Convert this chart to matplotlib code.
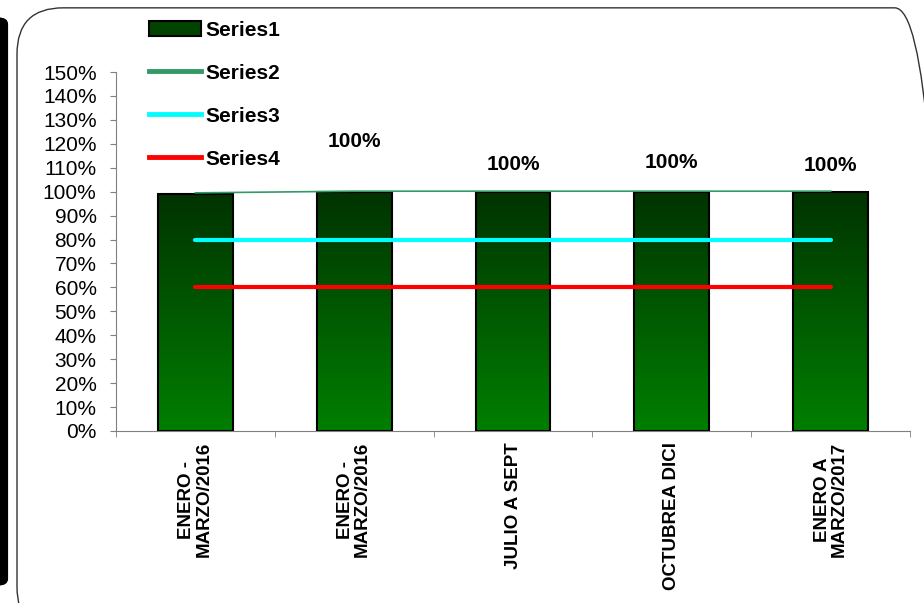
import numpy as np
import matplotlib
matplotlib.use("Agg")
import matplotlib.pyplot as plt
from matplotlib.patches import FancyBboxPatch
from matplotlib.lines import Line2D
from matplotlib.patches import Patch
from matplotlib.colors import LinearSegmentedColormap

plt.rcParams['font.family'] = ['Liberation Sans', 'DejaVu Sans']

categories = ['ENERO -\nMARZO/2016', 'ENERO -\nMARZO/2016', 'JULIO A SEPT',
              'OCTUBREA DICI', 'ENERO A\nMARZO/2017']
series1 = [0.99, 1.0, 1.0, 1.0, 1.0]
series2 = [0.995, 1.002, 1.002, 1.002, 1.002]
series3 = [0.80, 0.80, 0.80, 0.80, 0.80]
series4 = [0.60, 0.60, 0.60, 0.60, 0.60]
bar_labels = ['', '100%', '100%', '100%', '100%']
label_y = [0, 1.21, 1.115, 1.12, 1.11]

fig = plt.figure(figsize=(9.24, 6.03), dpi=100)
ax = fig.add_axes([116 / 924, 1 - 431 / 603, 794 / 924, 359 / 603])

x = np.arange(len(categories))
width = 0.47
bars = ax.bar(x, series1, width=width, color='none', edgecolor='black', linewidth=1.5, zorder=3)

# vertical gradient fill, dark at top
cmap = LinearSegmentedColormap.from_list('g', ['#003300', '#007f00'])
grad = np.linspace(0, 1, 256).reshape(-1, 1)
for b in bars:
    x0, y0 = b.get_x(), b.get_y()
    im = ax.imshow(grad, cmap=cmap, aspect='auto', origin='upper',
                   extent=[x0, x0 + b.get_width(), y0, y0 + b.get_height()], zorder=2)
    im.set_clip_path(b)

ax.plot(x, series2, color='#339966', linewidth=1.2, zorder=4)
ax.plot(x, series3, color='#00ffff', linewidth=3, solid_capstyle='round', zorder=4)
ax.plot(x, series4, color='#ff0000', linewidth=3, solid_capstyle='round', zorder=4)

for xi, lab, ly in zip(x, bar_labels, label_y):
    if lab:
        ax.text(xi, ly, lab, ha='center', va='center', fontsize=15, fontweight='bold')

ax.set_xlim(-0.5, len(categories) - 0.5)
ax.set_ylim(0, 1.5)
ax.set_yticks(np.arange(0, 1.51, 0.1))
ax.set_yticklabels([f'{int(round(v * 100))}%' for v in np.arange(0, 1.51, 0.1)], fontsize=15)
ax.set_xticks(x)
ax.set_xticklabels(categories, rotation=90, fontsize=13.5, fontweight='bold', va='top', linespacing=1.0)
ax.set_xticks(np.arange(-0.5, len(categories)), minor=True)
ax.tick_params(axis='x', which='major', length=0, pad=8)
ax.tick_params(axis='x', which='minor', length=4, color='#808080')
ax.tick_params(axis='y', length=4, color='#808080', pad=10)
for s in ['top', 'right']:
    ax.spines[s].set_visible(False)
ax.spines['left'].set_color('#808080')
ax.spines['bottom'].set_color('#808080')

handles = [Patch(facecolor='#004400', edgecolor='black', linewidth=1.5),
           Line2D([0], [0], color='#339966', linewidth=3.5),
           Line2D([0], [0], color='#00ffff', linewidth=3.5),
           Line2D([0], [0], color='#ff0000', linewidth=3.5)]
fig.legend(handles, ['Series1', 'Series2', 'Series3', 'Series4'],
           loc='upper left', bbox_to_anchor=(130 / 924, 1 - 2 / 603),
           frameon=False, prop={'weight': 'bold', 'size': 15},
           handlelength=2.5, handleheight=0.7, labelspacing=1.15, handletextpad=0.2)

# outer rounded frame
frame = FancyBboxPatch((17 / 924, -0.05), 1.0, 1.037, boxstyle='round,pad=0,rounding_size=0.05',
                       transform=fig.transFigure, facecolor='none', edgecolor='#333333',
                       linewidth=1.0, zorder=0, mutation_aspect=924 / 603)
fig.patches.append(frame)
left_bar = FancyBboxPatch((-0.02, 0.03), 0.028, 0.94, boxstyle='round,pad=0,rounding_size=0.01',
                          transform=fig.transFigure, facecolor='black', edgecolor='black', zorder=0)
fig.patches.append(left_bar)

fig.savefig('out.png', dpi=100)
